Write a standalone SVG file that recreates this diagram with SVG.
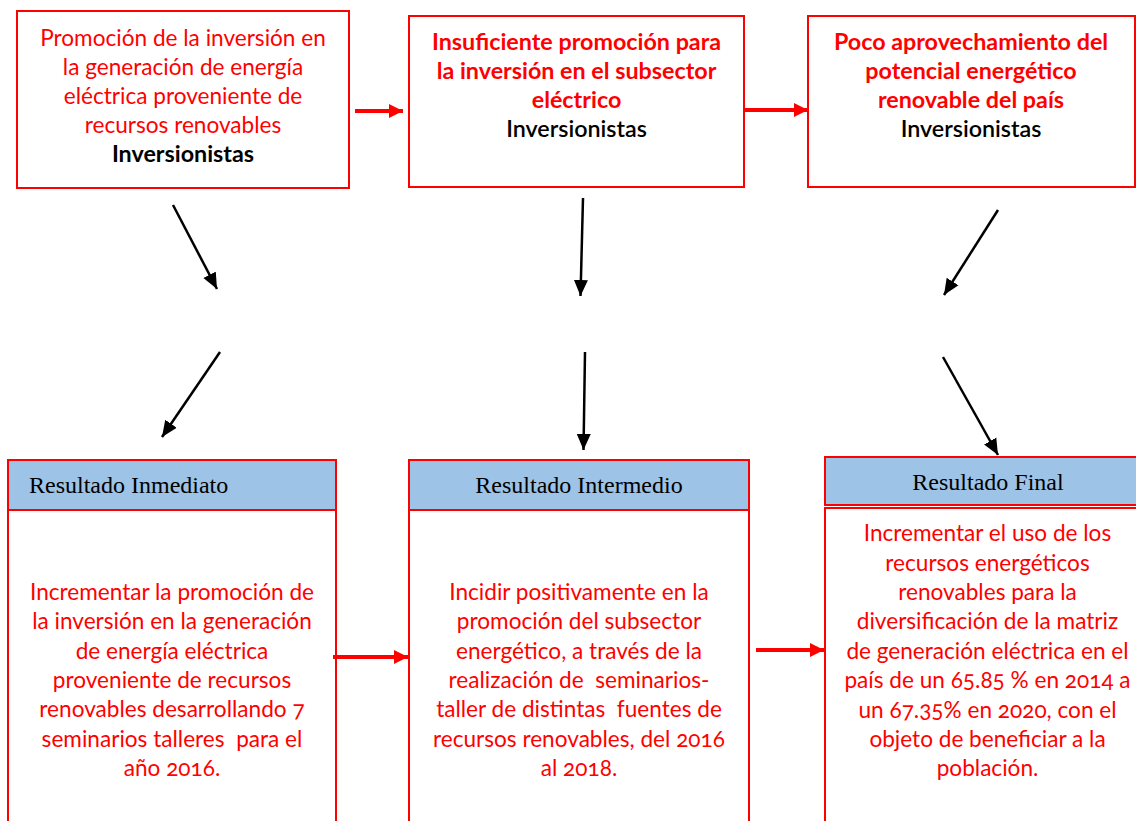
<svg xmlns="http://www.w3.org/2000/svg" width="1136" height="821" viewBox="0 0 1136 821">
<style>
.box{fill:#fff;stroke:#ff0000;stroke-width:2}
.hdr{fill:#9dc3e6;stroke:#ff0000;stroke-width:2}
.t{font-family:Lato,"Open Sans","Liberation Sans",sans-serif;font-size:22.6px;fill:#ff0000;text-anchor:middle;font-variant-numeric:oldstyle-nums;white-space:pre}
.b{font-weight:bold;font-size:23.3px}
.k{fill:#000}
.s{font-weight:600;font-size:23.3px}
.h{font-family:"Liberation Serif","Times New Roman",serif;font-size:24px;fill:#000}
.blk{stroke:#000;stroke-width:2.5;fill:none}
.red{stroke:#ff0000;stroke-width:4;fill:none}
</style>
<defs>
<marker id="ah" markerUnits="userSpaceOnUse" markerWidth="18" markerHeight="16" refX="16" refY="7.5" orient="auto"><path d="M0,0.5 L16,7.5 L0,14.5 z" fill="#000"/></marker>
<marker id="rh" markerUnits="userSpaceOnUse" markerWidth="15" markerHeight="15" refX="14" refY="7" orient="auto"><path d="M0,0 L14,7 L0,14 z" fill="#ff0000"/></marker>
</defs>
<rect width="1136" height="821" fill="#fff"/>

<g id="problema1">
<rect class="box" x="17" y="11" width="332" height="177"/>
<text class="t" x="183" y="46">Promoción de la inversión en</text>
<text class="t" x="183" y="75">la generación de energía</text>
<text class="t" x="183" y="104">eléctrica proveniente de</text>
<text class="t" x="183" y="133">recursos renovables</text>
<text class="t b k" x="183" y="162">Inversionistas</text>
</g>

<g id="problema2">
<rect class="box" x="409" y="16" width="335" height="171"/>
<text class="t b" x="576.5" y="50">Insuficiente promoción para</text>
<text class="t b" x="576.5" y="79">la inversión en el subsector</text>
<text class="t b" x="576.5" y="108">eléctrico</text>
<text class="t k s" x="576.5" y="137">Inversionistas</text>
</g>

<g id="problema3">
<rect class="box" x="808" y="16" width="327" height="171"/>
<text class="t b" x="971" y="50">Poco aprovechamiento del</text>
<text class="t b" x="971" y="79">potencial energético</text>
<text class="t b" x="971" y="108">renovable del país</text>
<text class="t k s" x="971" y="137">Inversionistas</text>
</g>

<g id="resultado-inmediato">
<rect class="box" x="8" y="510" width="328" height="320"/>
<rect class="hdr" x="8" y="460" width="328" height="50"/>
<text class="h" x="29" y="493">Resultado Inmediato</text>
<text class="t" x="172" y="600">Incrementar la promoción de</text>
<text class="t" x="172" y="629">la inversión en la generación</text>
<text class="t" x="172" y="659">de energía eléctrica</text>
<text class="t" x="172" y="688">proveniente de recursos</text>
<text class="t" x="172" y="717">renovables desarrollando 7</text>
<text class="t" x="172" y="747">seminarios talleres  para el</text>
<text class="t" x="172" y="776">año 2016.</text>
</g>

<g id="resultado-intermedio">
<rect class="box" x="409" y="510" width="340" height="320"/>
<rect class="hdr" x="409" y="460" width="340" height="50"/>
<text class="h" x="579" y="493" text-anchor="middle">Resultado Intermedio</text>
<text class="t" x="579" y="600">Incidir positivamente en la</text>
<text class="t" x="579" y="629">promoción del subsector</text>
<text class="t" x="579" y="659">energético, a través de la</text>
<text class="t" x="579" y="688">realización de  seminarios-</text>
<text class="t" x="579" y="717">taller de distintas  fuentes de</text>
<text class="t" x="579" y="747">recursos renovables, del 2016</text>
<text class="t" x="579" y="776">al 2018.</text>
</g>

<g id="resultado-final">
<rect class="box" x="825" y="508" width="330" height="320"/>
<rect class="hdr" x="825" y="457" width="330" height="48"/>
<text class="h" x="988" y="490" text-anchor="middle">Resultado Final</text>
<text class="t" x="987.5" y="541">Incrementar el uso de los</text>
<text class="t" x="987.5" y="571">recursos energéticos</text>
<text class="t" x="987.5" y="600">renovables para la</text>
<text class="t" x="987.5" y="629">diversificación de la matriz</text>
<text class="t" x="987.5" y="659">de generación eléctrica en el</text>
<text class="t" x="987.5" y="688">país de un 65.85 % en 2014 a</text>
<text class="t" x="987.5" y="718">un 67.35% en 2020, con el</text>
<text class="t" x="987.5" y="747">objeto de beneficiar a la</text>
<text class="t" x="987.5" y="776">población.</text>
</g>

<g id="connectors">
<line class="red" x1="355" y1="111" x2="403" y2="111" marker-end="url(#rh)"/>
<line class="red" x1="744" y1="110" x2="808" y2="110" marker-end="url(#rh)"/>
<line class="red" x1="333" y1="657" x2="408" y2="657" marker-end="url(#rh)"/>
<line class="red" x1="756" y1="650" x2="824" y2="650" marker-end="url(#rh)"/>
<line class="blk" x1="173" y1="205" x2="217" y2="289" marker-end="url(#ah)"/>
<line class="blk" x1="220" y1="352" x2="162" y2="437" marker-end="url(#ah)"/>
<line class="blk" x1="583" y1="198" x2="580.5" y2="296" marker-end="url(#ah)"/>
<line class="blk" x1="585" y1="352" x2="583.5" y2="450" marker-end="url(#ah)"/>
<line class="blk" x1="998" y1="210" x2="944" y2="295" marker-end="url(#ah)"/>
<line class="blk" x1="943" y1="357" x2="998" y2="455" marker-end="url(#ah)"/>
</g>
</svg>
